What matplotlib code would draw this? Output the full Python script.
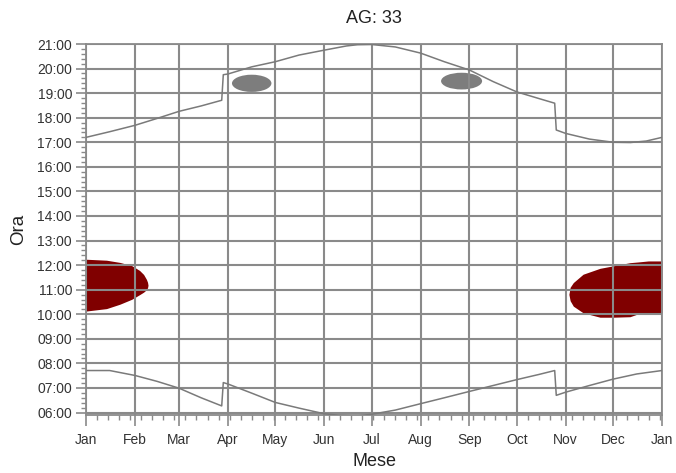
import numpy as np
import matplotlib.pyplot as plt
from matplotlib.patches import Ellipse
from matplotlib.ticker import FixedLocator, MultipleLocator

plt.rcParams['font.family'] = ['Liberation Sans', 'DejaVu Sans']

title = 'AG: 33'
month_days = [0, 31, 59, 90, 120, 151, 181, 212, 243, 273, 304, 334, 365]
month_labels = ['Jan', 'Feb', 'Mar', 'Apr', 'May', 'Jun', 'Jul',
                'Aug', 'Sep', 'Oct', 'Nov', 'Dec', 'Jan']
hour_ticks = list(range(6, 22))
hour_labels = ['%02d:00' % h for h in hour_ticks]

# sunset / sunrise (hours), DST jumps at day ~86 and ~297
sunset_days = [0, 15, 31, 45, 59, 73, 86, 87, 90, 105, 120, 135, 151, 165, 172,
               181, 196, 212, 227, 243, 258, 273, 287, 297, 298, 304, 319, 334,
               345, 355, 365]
sunset_hours = [17.20, 17.43, 17.69, 17.97, 18.26, 18.48, 18.71, 19.75, 19.78,
                20.07, 20.28, 20.55, 20.75, 20.92, 20.97, 20.98, 20.88, 20.63,
                20.28, 19.94, 19.47, 19.05, 18.78, 18.59, 17.50, 17.36, 17.13,
                17.00, 16.99, 17.05, 17.20]

sunrise_days = [0, 15, 31, 45, 59, 73, 86, 87, 90, 105, 120, 135, 151, 160, 172,
                181, 196, 212, 227, 243, 258, 273, 287, 297, 298, 304, 319, 334,
                349, 365]
sunrise_hours = [7.71, 7.71, 7.51, 7.27, 6.99, 6.60, 6.27, 7.22, 7.16, 6.79,
                 6.41, 6.18, 5.95, 5.89, 5.86, 5.93, 6.10, 6.36, 6.60, 6.86,
                 7.10, 7.34, 7.55, 7.71, 6.70, 6.83, 7.10, 7.36, 7.57, 7.71]

# shadow regions (dark red)
shade1_days = [0, 13, 21.5, 29, 34, 36.5, 38.3, 39.0, 39.3]
shade1_top = [12.24, 12.20, 12.11, 11.98, 11.78, 11.62, 11.42, 11.30, 11.18]
shade1_bot = [10.13, 10.23, 10.41, 10.61, 10.80, 10.90, 11.00, 11.08, 11.18]

shade2_days = [306, 306.8, 308.8, 315, 325.7, 334, 344.7, 350, 356.3, 365]
shade2_top = [10.81, 11.10, 11.29, 11.63, 11.87, 11.97, 12.10, 12.13, 12.17, 12.17]
shade2_bot = [10.81, 10.55, 10.33, 10.06, 9.88, 9.88, 9.90, 10.02, 10.06, 10.06]

# small gray patches near sunset
blob_day = [105, 238]
blob_hour = [19.40, 19.49]
blob_w = [25, 26]
blob_h = [0.7, 0.68]

grid_c = '#8a8a8a'
line_c = '#7a7a7a'

fig = plt.figure(figsize=(6.76, 4.73), dpi=100)
ax = fig.add_axes([86/676, 1 - 415/473, 576/676, (415 - 44)/473])

ax.fill_between(shade1_days, shade1_bot, shade1_top, color='#800000', lw=0, zorder=1)
ax.fill_between(shade2_days, shade2_bot, shade2_top, color='#800000', lw=0, zorder=1)
for d, h, w, hh in zip(blob_day, blob_hour, blob_w, blob_h):
    ax.add_patch(Ellipse((d, h), w, hh, color='#7d7d7d', lw=0, zorder=1))

ax.plot(sunset_days, sunset_hours, color=line_c, lw=1.1, zorder=3)
ax.plot(sunrise_days, sunrise_hours, color=line_c, lw=1.1, zorder=3)

ax.set_xlim(0, 365)
ax.set_ylim(5.9, 21.0)
ax.xaxis.set_major_locator(FixedLocator(month_days))
ax.set_xticklabels(month_labels)
ax.xaxis.set_minor_locator(MultipleLocator(7))
ax.yaxis.set_major_locator(FixedLocator(hour_ticks))
ax.set_yticklabels(hour_labels)
ax.yaxis.set_minor_locator(MultipleLocator(0.2))

ax.grid(True, which='major', color=grid_c, lw=1.5, zorder=2)
ax.set_axisbelow(False)
for s in ax.spines.values():
    s.set_color(grid_c)
    s.set_linewidth(1.3)
ax.tick_params(which='major', length=7, width=1.2, color=grid_c,
               labelsize=10, labelcolor='#333333', pad=3)
ax.tick_params(which='minor', length=3.5, width=1.0, color=grid_c)
ax.tick_params(axis='x', which='major', length=8, pad=5)

ax.set_title(title, fontsize=13, pad=15, color='#222222')
ax.set_xlabel('Mese', fontsize=13, labelpad=4, color='#222222')
ax.set_ylabel('Ora', fontsize=13.5, labelpad=7, color='#222222')

fig.savefig('out.png', dpi=100, facecolor='white')
